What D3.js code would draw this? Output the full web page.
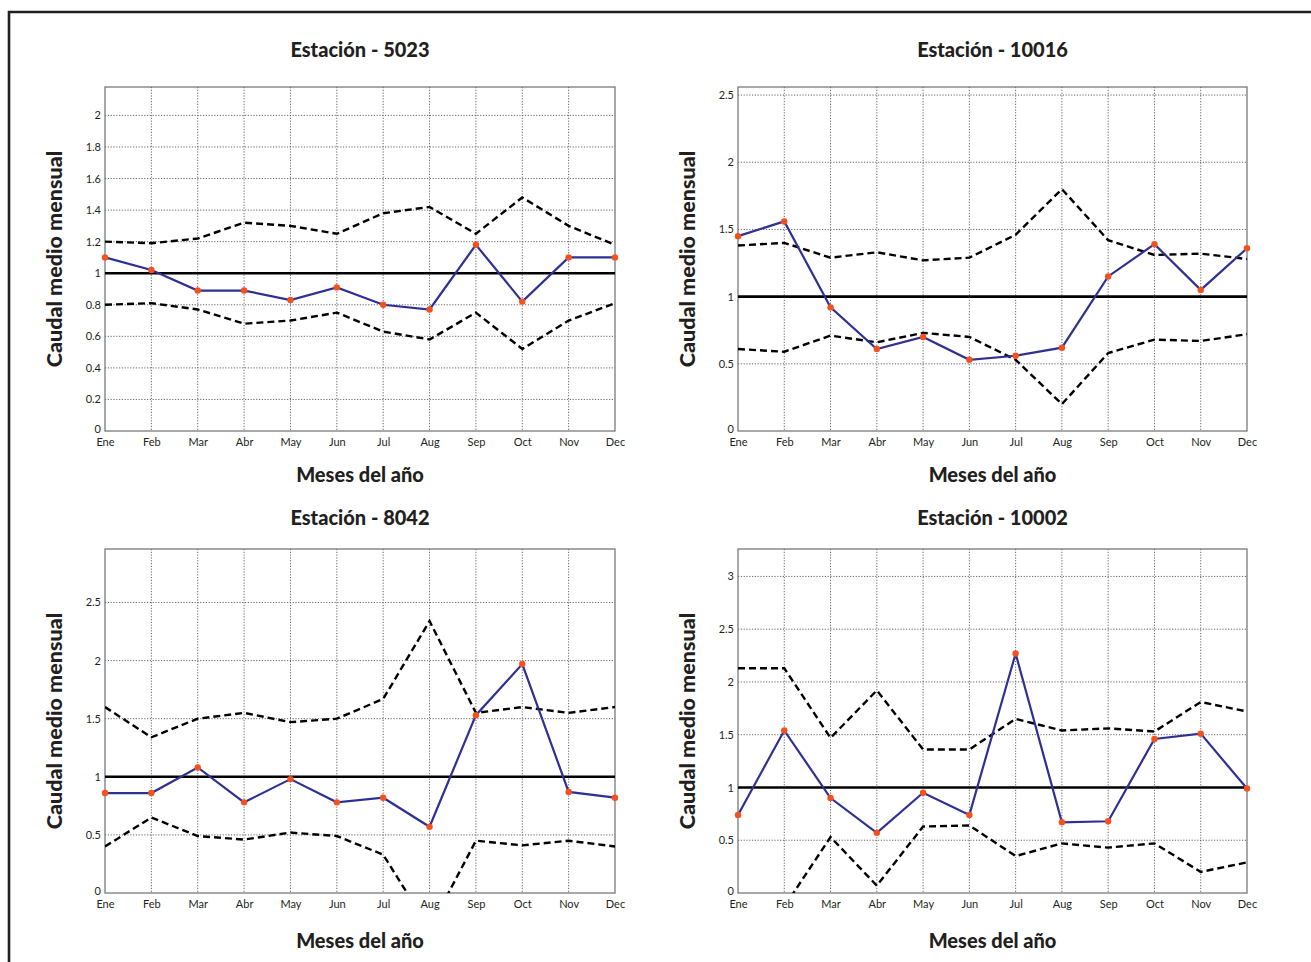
<!DOCTYPE html>
<html>
<head>
<meta charset="utf-8">
<script src="https://cdn.jsdelivr.net/npm/d3@7"></script>
<style>
  html, body { margin: 0; padding: 0; background: #fff; }
  svg { display: block; }
  .tick-lbl { font-family: Lato, "Open Sans", sans-serif; font-size: 11px; fill: #231f20; }
  .title { font-family: Lato, sans-serif; font-weight: 900; font-size: 20px; fill: #231f20; }
  .axis-lbl { font-family: Lato, sans-serif; font-weight: 900; font-size: 20px; fill: #231f20; }
  .y-lbl { font-family: Lato, sans-serif; font-weight: 900; font-size: 21.5px; fill: #231f20; }
</style>
</head>
<body>
<script>
// Months on the x axis
const months = ["Ene", "Feb", "Mar", "Abr", "May", "Jun", "Jul", "Aug", "Sep", "Oct", "Nov", "Dec"];

// Station 5023: monthly mean flow (normalised) with upper / lower bands
const media5023 = [1.10, 1.02, 0.89, 0.89, 0.83, 0.91, 0.80, 0.77, 1.18, 0.82, 1.10, 1.10];
const sup5023   = [1.20, 1.19, 1.22, 1.32, 1.30, 1.25, 1.38, 1.42, 1.25, 1.48, 1.30, 1.18];
const inf5023   = [0.80, 0.81, 0.77, 0.68, 0.70, 0.75, 0.63, 0.58, 0.75, 0.52, 0.70, 0.81];
const ticks5023 = [0, 0.2, 0.4, 0.6, 0.8, 1, 1.2, 1.4, 1.6, 1.8, 2];
const ymax5023  = 2.18;

// Station 10016
const media10016 = [1.45, 1.56, 0.92, 0.61, 0.70, 0.53, 0.56, 0.62, 1.15, 1.39, 1.05, 1.36];
const sup10016   = [1.38, 1.40, 1.29, 1.33, 1.27, 1.29, 1.46, 1.80, 1.42, 1.31, 1.32, 1.28];
const inf10016   = [0.61, 0.59, 0.71, 0.66, 0.73, 0.70, 0.53, 0.20, 0.58, 0.68, 0.67, 0.72];
const ticks10016 = [0, 0.5, 1, 1.5, 2, 2.5];
const ymax10016  = 2.56;

// Station 8042
const media8042 = [0.86, 0.86, 1.08, 0.78, 0.98, 0.78, 0.82, 0.57, 1.53, 1.97, 0.87, 0.82];
const sup8042   = [1.60, 1.34, 1.50, 1.55, 1.47, 1.50, 1.67, 2.34, 1.55, 1.60, 1.55, 1.60];
const inf8042   = [0.40, 0.65, 0.49, 0.46, 0.52, 0.49, 0.33, -0.31, 0.45, 0.41, 0.45, 0.40];
const ticks8042 = [0, 0.5, 1, 1.5, 2, 2.5];
const ymax8042  = 2.96;

// Station 10002
const media10002 = [0.74, 1.54, 0.90, 0.57, 0.95, 0.74, 2.27, 0.67, 0.68, 1.46, 1.51, 0.99];
const sup10002   = [2.13, 2.13, 1.47, 1.92, 1.36, 1.36, 1.65, 1.54, 1.56, 1.53, 1.81, 1.72];
const inf10002   = [-0.40, -0.13, 0.53, 0.07, 0.63, 0.64, 0.35, 0.47, 0.43, 0.47, 0.20, 0.29];
const ticks10002 = [0, 0.5, 1, 1.5, 2, 2.5, 3];
const ymax10002  = 3.26;

const W = 1311, H = 962;
const svg = d3.select("body").append("svg").attr("width", W).attr("height", H);

// outer frame
svg.append("path")
  .attr("d", `M9,${H + 5} L9,12 L${W + 5},12`)
  .attr("fill", "none").attr("stroke", "#231f20").attr("stroke-width", 2.6);

const panels = [
  { name: "5023",  media: media5023,  sup: sup5023,  inf: inf5023,  ticks: ticks5023,  ymax: ymax5023,
    x0: 105, x1: 615, y0: 87, y1: 431, titleY: 57, xlblY: 482 },
  { name: "10016", media: media10016, sup: sup10016, inf: inf10016, ticks: ticks10016, ymax: ymax10016,
    x0: 738, x1: 1247, y0: 87, y1: 431, titleY: 57, xlblY: 482 },
  { name: "8042",  media: media8042,  sup: sup8042,  inf: inf8042,  ticks: ticks8042,  ymax: ymax8042,
    x0: 105, x1: 615, y0: 549, y1: 893, titleY: 525, xlblY: 948 },
  { name: "10002", media: media10002, sup: sup10002, inf: inf10002, ticks: ticks10002, ymax: ymax10002,
    x0: 738, x1: 1247, y0: 549, y1: 893, titleY: 525, xlblY: 948 }
];

const fmt = d3.format("~g");

panels.forEach((p, i) => {
  const x = d3.scalePoint().domain(months).range([p.x0, p.x1]);
  const y = d3.scaleLinear().domain([0, p.ymax]).range([p.y1, p.y0]);
  const g = svg.append("g");

  const clipId = "clip" + i;
  svg.append("clipPath").attr("id", clipId)
    .append("rect").attr("x", p.x0).attr("y", p.y0)
    .attr("width", p.x1 - p.x0).attr("height", p.y1 - p.y0);

  // dotted grid
  g.append("g").selectAll("line.v").data(months.slice(1, -1)).join("line")
    .attr("x1", d => x(d)).attr("x2", d => x(d))
    .attr("y1", p.y0).attr("y2", p.y1)
    .attr("stroke", "#555").attr("stroke-width", 0.9).attr("stroke-dasharray", "1.2,1.6");
  g.append("g").selectAll("line.h").data(p.ticks.filter(t => t > 0)).join("line")
    .attr("x1", p.x0).attr("x2", p.x1)
    .attr("y1", d => y(d)).attr("y2", d => y(d))
    .attr("stroke", "#555").attr("stroke-width", 0.9).attr("stroke-dasharray", "1.2,1.6");

  // plot frame
  g.append("rect").attr("x", p.x0).attr("y", p.y0)
    .attr("width", p.x1 - p.x0).attr("height", p.y1 - p.y0)
    .attr("fill", "none").attr("stroke", "#6d6e71").attr("stroke-width", 1.2);

  // axes (tick labels only; frame is drawn above)
  const ya = d3.axisLeft(y).tickValues(p.ticks).tickFormat(fmt).tickSize(0).tickPadding(4);
  const yg = g.append("g").attr("transform", `translate(${p.x0},0)`).call(ya);
  yg.select(".domain").remove();
  yg.selectAll("text").attr("class", "tick-lbl").attr("fill", null).attr("font-family", null).attr("font-size", null);
  yg.selectAll(".tick").filter(d => d === 0).select("text").attr("dy", "0.1em");

  const xa = d3.axisBottom(x).tickSize(0).tickPadding(7);
  const xg = g.append("g").attr("transform", `translate(0,${p.y1})`).call(xa);
  xg.select(".domain").remove();
  xg.selectAll("text").attr("class", "tick-lbl").attr("fill", null).attr("font-family", null).attr("font-size", null);

  const plot = g.append("g").attr("clip-path", `url(#${clipId})`);
  const line = d3.line().x((d, k) => x(months[k])).y(d => y(d));

  // bands
  [p.sup, p.inf].forEach(arr => {
    plot.append("path").datum(arr).attr("d", line)
      .attr("fill", "none").attr("stroke", "#000").attr("stroke-width", 2.4)
      .attr("stroke-dasharray", "7,4");
  });

  // reference at 1
  plot.append("line").attr("x1", p.x0).attr("x2", p.x1)
    .attr("y1", y(1)).attr("y2", y(1))
    .attr("stroke", "#000").attr("stroke-width", 2.6);

  // monthly mean
  g.append("path").datum(p.media).attr("d", line)
    .attr("fill", "none").attr("stroke", "#2e3192").attr("stroke-width", 2.2);
  g.append("g").selectAll("circle").data(p.media).join("circle")
    .attr("cx", (d, k) => x(months[k])).attr("cy", d => y(d)).attr("r", 3.2)
    .attr("fill", "#f4511e");

  const cx = (p.x0 + p.x1) / 2;
  svg.append("text").attr("class", "title")
    .attr("x", cx) .attr("y", p.titleY).attr("text-anchor", "middle")
    .text("Estación - " + p.name);
  svg.append("text").attr("class", "axis-lbl")
    .attr("x", cx).attr("y", p.xlblY).attr("text-anchor", "middle")
    .text("Meses del año");
  const ly = (p.y0 + p.y1) / 2 - 0;
  svg.append("text").attr("class", "y-lbl")
    .attr("transform", `translate(${p.x0 - 43},${ly}) rotate(-90)`)
    .attr("text-anchor", "middle")
    .text("Caudal medio mensual");
});
</script>
</body>
</html>
